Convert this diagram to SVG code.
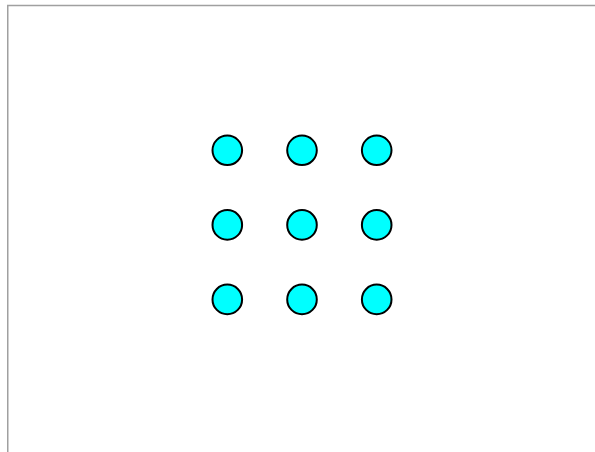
<svg xmlns="http://www.w3.org/2000/svg" width="595" height="452" viewBox="0 0 595 452">
<style>
.n{fill:#00ffff;stroke:#000;stroke-width:2}
.b{stroke:#a0a0a0;stroke-width:1.5;fill:none}
</style>
<rect width="595" height="452" fill="#fff"/>
<path class="b" d="M7.75,452 V5.5 H595"/>
<g id="connectors"></g>
<g id="n1"><circle class="n" cx="227.3" cy="150.3" r="14.8"/></g>
<g id="n2"><circle class="n" cx="302" cy="150.3" r="14.8"/></g>
<g id="n3"><circle class="n" cx="376.7" cy="150.3" r="14.8"/></g>
<g id="n4"><circle class="n" cx="227.3" cy="224.9" r="14.8"/></g>
<g id="n5"><circle class="n" cx="302" cy="224.9" r="14.8"/></g>
<g id="n6"><circle class="n" cx="376.7" cy="224.9" r="14.8"/></g>
<g id="n7"><circle class="n" cx="227.3" cy="299.4" r="14.8"/></g>
<g id="n8"><circle class="n" cx="302" cy="299.4" r="14.8"/></g>
<g id="n9"><circle class="n" cx="376.7" cy="299.4" r="14.8"/></g>
</svg>
